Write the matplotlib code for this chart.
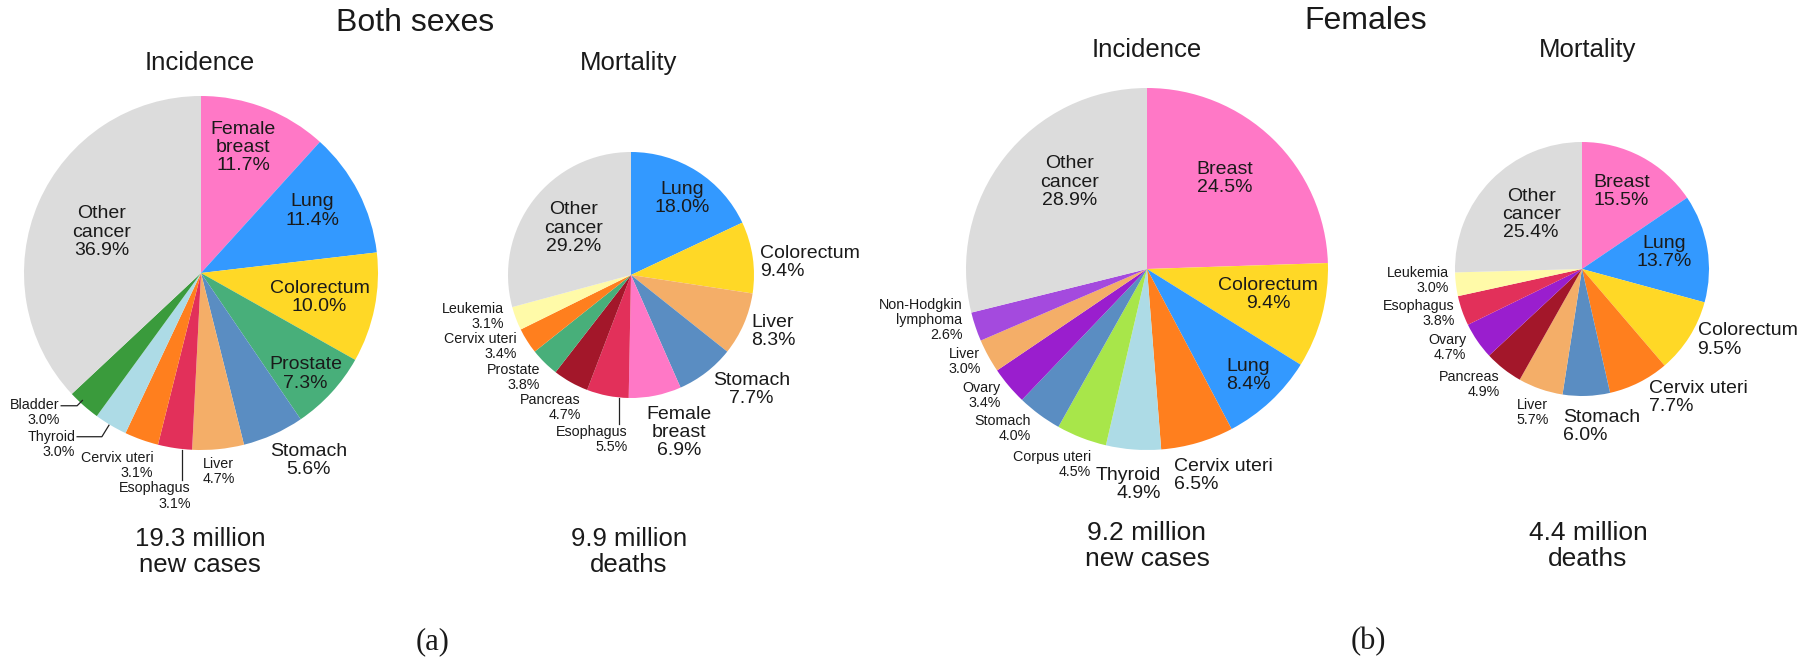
import matplotlib.pyplot as plt

plt.rcParams['font.family'] = ['Liberation Sans', 'DejaVu Sans']

W, H = 1815, 664
BIG, SMALL = 14, 10.3
TXT = '#1a1a1a'

# colours per cancer site
site_colors = {
    'Breast': '#FF78C6', 'Lung': '#3399FF', 'Colorectum': '#FFD826',
    'Prostate': '#48AF7A', 'Stomach': '#5A8DC2', 'Liver': '#F4AE68',
    'Esophagus': '#E2305A', 'Cervix uteri': '#FF7F1E', 'Thyroid': '#ADDBE6',
    'Bladder': '#3A9B3C', 'Other': '#DCDCDC', 'Pancreas': '#A3172A',
    'Leukemia': '#FFFAA8', 'Corpus uteri': '#A8E64A', 'Ovary': '#9A1ECE',
    'NHL': '#A44ADE',
}

# Both sexes, incidence
inc_all_sites = ['Breast', 'Lung', 'Colorectum', 'Prostate', 'Stomach', 'Liver',
                 'Esophagus', 'Cervix uteri', 'Thyroid', 'Bladder', 'Other']
inc_all_names = ['Female\nbreast', 'Lung', 'Colorectum', 'Prostate', 'Stomach', 'Liver',
                 'Esophagus', 'Cervix uteri', 'Thyroid', 'Bladder', 'Other\ncancer']
inc_all_values = [11.7, 11.4, 10.0, 7.3, 5.6, 4.7, 3.1, 3.1, 3.0, 3.0, 36.9]

# Both sexes, mortality
mort_all_sites = ['Lung', 'Colorectum', 'Liver', 'Stomach', 'Breast', 'Esophagus',
                  'Pancreas', 'Prostate', 'Cervix uteri', 'Leukemia', 'Other']
mort_all_names = ['Lung', 'Colorectum', 'Liver', 'Stomach', 'Female\nbreast', 'Esophagus',
                  'Pancreas', 'Prostate', 'Cervix uteri', 'Leukemia', 'Other\ncancer']
mort_all_values = [18.0, 9.4, 8.3, 7.7, 6.9, 5.5, 4.7, 3.8, 3.4, 3.1, 29.2]

# Females, incidence
inc_fem_sites = ['Breast', 'Colorectum', 'Lung', 'Cervix uteri', 'Thyroid', 'Corpus uteri',
                 'Stomach', 'Ovary', 'Liver', 'NHL', 'Other']
inc_fem_names = ['Breast', 'Colorectum', 'Lung', 'Cervix uteri', 'Thyroid', 'Corpus uteri',
                 'Stomach', 'Ovary', 'Liver', 'Non-Hodgkin\nlymphoma', 'Other\ncancer']
inc_fem_values = [24.5, 9.4, 8.4, 6.5, 4.9, 4.5, 4.0, 3.4, 3.0, 2.6, 28.9]

# Females, mortality
mort_fem_sites = ['Breast', 'Lung', 'Colorectum', 'Cervix uteri', 'Stomach', 'Liver',
                  'Pancreas', 'Ovary', 'Esophagus', 'Leukemia', 'Other']
mort_fem_names = ['Breast', 'Lung', 'Colorectum', 'Cervix uteri', 'Stomach', 'Liver',
                  'Pancreas', 'Ovary', 'Esophagus', 'Leukemia', 'Other\ncancer']
mort_fem_values = [15.5, 13.7, 9.5, 7.7, 6.0, 5.7, 4.9, 4.7, 3.8, 3.0, 25.4]

fig = plt.figure(figsize=(W / 100, H / 100), dpi=100)


def draw_pie(cx, cy, r, sites, names, values, place, lines=()):
    ax = fig.add_axes([(cx - r) / W, (H - cy - r) / H, 2 * r / W, 2 * r / H])
    ax.pie(values, colors=[site_colors[s] for s in sites], startangle=90,
           counterclock=False, radius=1, wedgeprops=dict(linewidth=0))
    ax.set_xlim(-1, 1)
    ax.set_ylim(-1, 1)
    ax.set_aspect('equal')
    ax.axis('off')
    for name, v, (x, y, ha, size) in zip(names, values, place):
        ax.text(x, y, f'{name}\n{v:.1f}%', ha=ha, va='center', fontsize=size,
                linespacing=1.1, color=TXT)
    for xs, ys in lines:
        ax.plot(xs, ys, color='#222222', lw=0.9, clip_on=False)
    return ax


# label positions in units of the pie radius
draw_pie(201, 273, 177, inc_all_sites, inc_all_names, inc_all_values,
         [(0.24, 0.71, 'center', BIG), (0.63, 0.35, 'center', BIG),
          (0.67, -0.14, 'center', BIG), (0.59, -0.57, 'center', BIG),
          (0.61, -1.06, 'center', BIG), (0.10, -1.12, 'center', SMALL),
          (-0.057, -1.26, 'right', SMALL), (-0.27, -1.09, 'right', SMALL),
          (-0.71, -0.97, 'right', SMALL), (-0.80, -0.79, 'right', SMALL),
          (-0.56, 0.23, 'center', BIG)],
         lines=[([-0.11, -0.11], [-1.0, -1.17]),
                ([-0.70, -0.56, -0.52], [-0.925, -0.925, -0.86]),
                ([-0.79, -0.70, -0.67], [-0.75, -0.75, -0.72])])

draw_pie(631, 275, 123, mort_all_sites, mort_all_names, mort_all_values,
         [(0.42, 0.62, 'center', BIG), (1.05, 0.10, 'left', BIG),
          (0.98, -0.46, 'left', BIG), (0.98, -0.93, 'center', BIG),
          (0.39, -1.28, 'center', BIG), (-0.03, -1.34, 'right', SMALL),
          (-0.41, -1.08, 'right', SMALL), (-0.74, -0.83, 'right', SMALL),
          (-0.93, -0.58, 'right', SMALL), (-1.03, -0.34, 'right', SMALL),
          (-0.47, 0.38, 'center', BIG)],
         lines=[([-0.10, -0.10], [-1.0, -1.21])])

draw_pie(1147, 269, 181, inc_fem_sites, inc_fem_names, inc_fem_values,
         [(0.43, 0.50, 'center', BIG), (0.67, -0.14, 'center', BIG),
          (0.56, -0.59, 'center', BIG), (0.15, -1.14, 'left', BIG),
          (0.08, -1.19, 'right', BIG), (-0.31, -1.08, 'right', SMALL),
          (-0.64, -0.88, 'right', SMALL), (-0.81, -0.70, 'right', SMALL),
          (-0.92, -0.51, 'right', SMALL), (-1.02, -0.28, 'right', SMALL),
          (-0.43, 0.48, 'center', BIG)])

draw_pie(1582, 269, 127, mort_fem_sites, mort_fem_names, mort_fem_values,
         [(0.31, 0.61, 'center', BIG), (0.65, 0.13, 'center', BIG),
          (0.91, -0.56, 'left', BIG), (0.53, -1.01, 'left', BIG),
          (-0.15, -1.24, 'left', BIG), (-0.39, -1.13, 'center', SMALL),
          (-0.65, -0.91, 'right', SMALL), (-0.91, -0.62, 'right', SMALL),
          (-1.00, -0.35, 'right', SMALL), (-1.05, -0.09, 'right', SMALL),
          (-0.40, 0.43, 'center', BIG)])


def ftext(x, y, s, size, **kw):
    fig.text(x / W, 1 - y / H, s, ha='center', va='center', fontsize=size,
             color=TXT, linespacing=1.1, **kw)


ftext(415, 23, 'Both sexes', 23)
ftext(1366, 21, 'Females', 23)
ftext(200, 63, 'Incidence', 18.5)
ftext(629, 63, 'Mortality', 18.5)
ftext(1147, 50, 'Incidence', 18.5)
ftext(1588, 50, 'Mortality', 18.5)
ftext(200, 552, '19.3 million\nnew cases', 18.5)
ftext(629, 552, '9.9 million\ndeaths', 18.5)
ftext(1147, 546, '9.2 million\nnew cases', 19)
ftext(1588, 546, '4.4 million\ndeaths', 19)
ftext(433, 642, '(a)', 22, family='Liberation Serif')
ftext(1368, 642, '(b)', 22, family='Liberation Serif')

fig.savefig('out.png', dpi=100)
